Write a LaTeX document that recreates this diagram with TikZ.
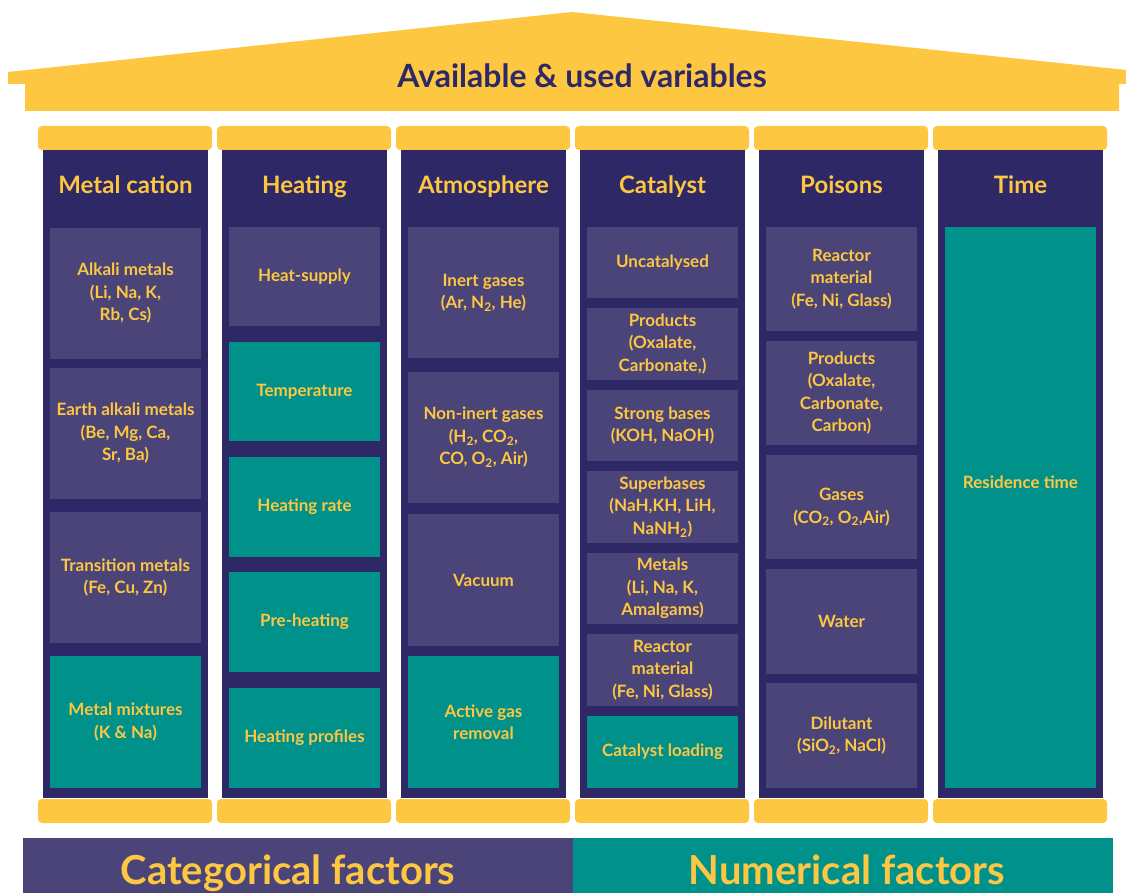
\documentclass[tikz,border=0pt]{standalone}
\usepackage{fontspec}
\setmainfont{Lato}
\usetikzlibrary{positioning}
\definecolor{navy}{HTML}{2E2966}
\definecolor{lilac}{HTML}{4B4478}
\definecolor{numcol}{HTML}{00918A}
\definecolor{gold}{HTML}{FDC741}

\begin{document}
\begin{tikzpicture}[x=1pt, y=-1pt,
  cat/.style={fill=lilac, text=gold, font=\bfseries\fontsize{17}{22.5}\selectfont, align=center, minimum width=151pt, inner sep=0pt},
  num/.style={cat, fill=numcol},
  head/.style={text=gold, font=\bfseries\fontsize{24}{28}\selectfont, anchor=base},
  band/.style={text=gold, font=\bfseries\fontsize{40}{44}\selectfont, anchor=base}]
\useasboundingbox (0,0) rectangle (1126,893);
% roof
\fill[gold] (8,72) -- (572,12) -- (1126,70) -- (1126,84) -- (1119,84) -- (1119,111)
  -- (25,111) -- (25,84) -- (8,84) -- cycle;
\node[text=navy, font=\bfseries\fontsize{32}{36}\selectfont, anchor=base] (roof) at (582,88) {Available \& used variables};
% columns and capitals
\foreach \k in {0,...,5} {
 \fill[navy] (43+179*\k,150) rectangle ++(165,648);
 \fill[gold, rounded corners=4pt] (38+179*\k,126) rectangle ++(174,24);
 \fill[gold, rounded corners=4pt] (38+179*\k,799) rectangle ++(174,24);
}
\foreach \t [count=\i from 0] in {Metal cation, Heating, Atmosphere, Catalyst, Poisons, Time}
 \node[head] (h\i) at (125.5+179*\i,194) {\t};
% metal cation
\node[cat, minimum height=131pt] (alkali) at (125.5,293.5) {Alkali metals\\(Li, Na, K,\\Rb, Cs)};
\node[cat, minimum height=131pt] (earth) at (125.5,433.5) {Earth alkali metals\\(Be, Mg, Ca,\\Sr, Ba)};
\node[cat, minimum height=131pt] (trans) at (125.5,577.5) {Transition metals\\(Fe, Cu, Zn)};
\node[num, minimum height=132pt] (mix) at (125.5,722) {Metal mixtures\\(K \& Na)};
% heating
\node[cat, minimum height=99pt] (supply) at (304.5,276.5) {Heat-supply};
\node[num, minimum height=99pt] (temp) at (304.5,391.5) {Temperature};
\node[num, minimum height=100pt] (rate) at (304.5,507) {Heating rate};
\node[num, minimum height=100pt] (preheat) at (304.5,622) {Pre-heating};
\node[num, minimum height=100pt] (profile) at (304.5,738) {Heating profiles};
% atmosphere
\node[cat, minimum height=131pt] (inert) at (483.5,292.5) {Inert gases\\(Ar, N\textsubscript{2}, He)};
\node[cat, minimum height=131pt] (noninert) at (483.5,437.5) {Non-inert gases\\(H\textsubscript{2}, CO\textsubscript{2},\\CO, O\textsubscript{2}, Air)};
\node[cat, minimum height=132pt] (vacuum) at (483.5,580) {Vacuum};
\node[num, minimum height=132pt] (removal) at (483.5,722) {Active gas\\removal};
% catalyst
\node[cat, minimum height=71pt] (uncat) at (662.5,262.5) {Uncatalysed};
\node[cat, minimum height=72pt] (cprod) at (662.5,344) {Products\\(Oxalate,\\Carbonate,)};
\node[cat, minimum height=71pt] (bases) at (662.5,425.5) {Strong bases\\(KOH, NaOH)};
\node[cat, minimum height=72pt] (superb) at (662.5,507) {Superbases\\(NaH,KH, LiH,\\NaNH\textsubscript{2})};
\node[cat, minimum height=71pt] (metals) at (662.5,588.5) {Metals\\(Li, Na, K,\\Amalgams)};
\node[cat, minimum height=72pt] (creact) at (662.5,670) {Reactor\\material\\(Fe, Ni, Glass)};
\node[num, minimum height=72pt] (loading) at (662.5,752) {Catalyst loading};
% poisons
\node[cat, minimum height=104pt] (preact) at (841.5,279) {Reactor\\material\\(Fe, Ni, Glass)};
\node[cat, minimum height=104pt] (pprod) at (841.5,393) {Products\\(Oxalate,\\Carbonate,\\Carbon)};
\node[cat, minimum height=104pt] (gases) at (841.5,507) {Gases\\(CO\textsubscript{2}, O\textsubscript{2},Air)};
\node[cat, minimum height=105pt] (water) at (841.5,621.5) {Water};
\node[cat, minimum height=105pt] (dilut) at (841.5,735.5) {Dilutant\\(SiO\textsubscript{2}, NaCl)};
% time
\node[num, minimum height=561pt] (restime) at (1020.5,507.5) {};
\node[text=gold, font=\bfseries\fontsize{17}{22.5}\selectfont] (restxt) at ([yshift=25pt]restime.center) {Residence time};
% factor bands
\fill[lilac] (23,838) rectangle (573,893);
\fill[numcol] (573,838) rectangle (1113,893);
\node[band] (catf) at (288,884) {Categorical factors};
\node[band] (numf) at (847,884) {Numerical factors};
\end{tikzpicture}
\end{document}
